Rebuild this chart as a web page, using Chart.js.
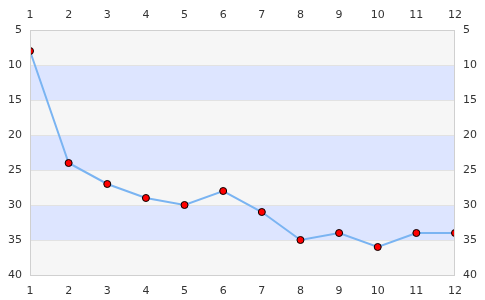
<!DOCTYPE html>
<html>
<head>
<meta charset="utf-8">
<script src="https://cdn.jsdelivr.net/npm/chart.js@4"></script>
<style>
html, body { margin: 0; padding: 0; background: #fff; }
#wrap { width: 485px; height: 300px; }
</style>
</head>
<body>
<div id="wrap"><canvas id="c"></canvas></div>
<script>
const xs = [1, 2, 3, 4, 5, 6, 7, 8, 9, 10, 11, 12];
const values = [8, 24, 27, 29, 30, 28, 31, 35, 34, 36, 34, 34];
const bandEdges = [5, 10, 15, 20, 25, 30, 35, 40];

// alternating gray / blue stripes behind the plot
const bands = {
    id: 'bands',
    beforeDraw(chart) {
        const { ctx, chartArea: a, scales } = chart;
        const y = scales.y;
        ctx.save();
        for (let i = 0; i < bandEdges.length - 1; i++) {
            const y0 = y.getPixelForValue(bandEdges[i]);
            const y1 = y.getPixelForValue(bandEdges[i + 1]);
            ctx.fillStyle = i % 2 ? '#dde5ff' : '#f6f6f6';
            ctx.fillRect(a.left, y0, a.right - a.left, y1 - y0);
        }
        ctx.restore();
    },
    afterDraw(chart) {
        const { ctx, chartArea: a } = chart;
        ctx.save();
        ctx.strokeStyle = '#d0d0d0';
        ctx.lineWidth = 1;
        ctx.strokeRect(a.left + 0.5, a.top + 0.5, a.right - a.left - 1, a.bottom - a.top);
        ctx.restore();
    }
};

const font = { family: 'DejaVu Sans', size: 11 };
const xAxis = (pos, h, pad) => ({
    type: 'linear', position: pos, min: 1, max: 12,
    grid: { display: false },
    border: { display: false },
    ticks: { stepSize: 1, color: '#333', font, padding: pad },
    afterFit(s) { s.height = h; }
});
const yAxis = (pos, w) => ({
    type: 'linear', position: pos, min: 5, max: 40, reverse: true,
    grid: { display: pos === 'left', color: '#e2e2e2', drawTicks: false },
    border: { display: false },
    ticks: { stepSize: 5, color: '#333', font, padding: 8 },
    afterFit(s) { s.width = w; }
});

new Chart(document.getElementById('c'), {
    type: 'line',
    data: {
        datasets: [{
            data: xs.map((x, i) => ({ x, y: values[i] })),
            borderColor: '#7ab4f2',
            borderWidth: 2,
            pointRadius: 3.5,
            pointBackgroundColor: '#ff0000',
            pointBorderColor: '#000',
            pointBorderWidth: 1,
            tension: 0
        }]
    },
    options: {
        responsive: true,
        maintainAspectRatio: false,
        animation: false,
        layout: { padding: 0 },
        plugins: { legend: { display: false }, tooltip: { enabled: false } },
        scales: {
            x: xAxis('bottom', 25, 2),
            x2: xAxis('top', 30, 0),
            y: yAxis('left', 30),
            y2: yAxis('right', 30)
        }
    },
    plugins: [bands]
});
</script>
</body>
</html>
